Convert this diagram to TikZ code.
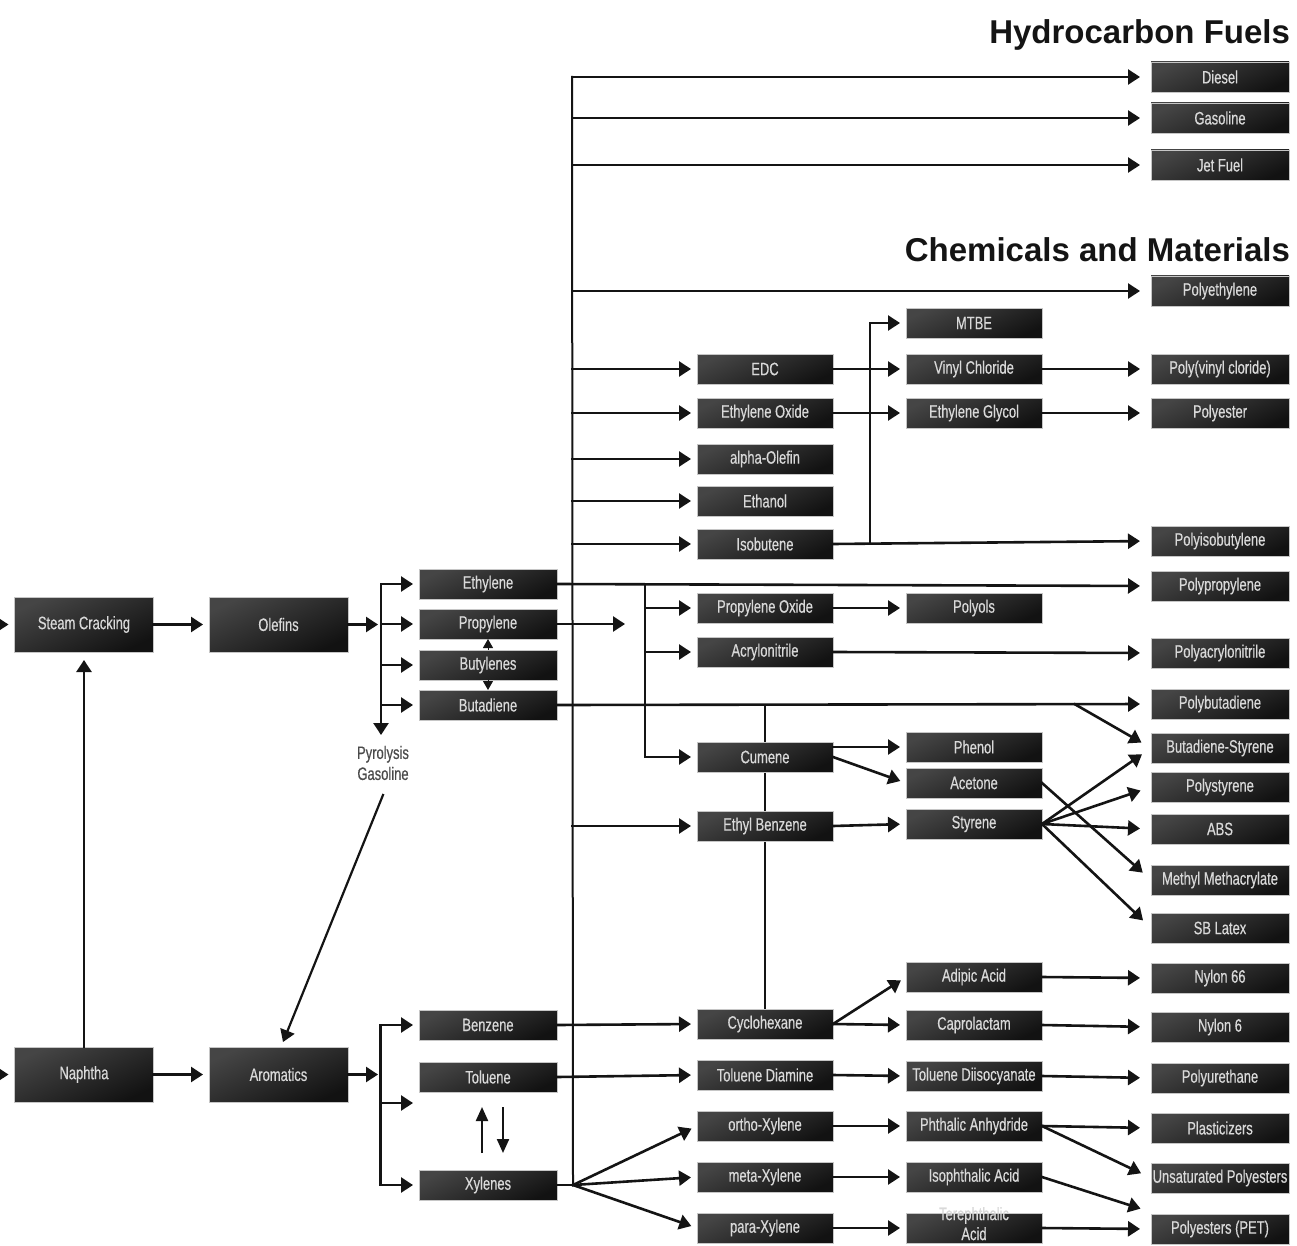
\documentclass[tikz,border=0pt]{standalone}
\usepackage{fontspec}
\setmainfont{Liberation Sans}
\newfontfamily\boxfont[FakeStretch=0.72,FakeBold=0.4]{Liberation Sans}
\newfontfamily\headfont{Liberation Sans}
\usetikzlibrary{arrows.meta,calc,backgrounds}
\definecolor{boxtop}{HTML}{454545}
\definecolor{boxbot}{HTML}{121212}
\definecolor{boxtext}{HTML}{D9D9D9}
\definecolor{ink}{HTML}{141414}
\definecolor{pyrotext}{HTML}{4A4A4A}
\begin{document}
\begin{tikzpicture}[x=1pt,y=-1pt,
  every node/.style={inner sep=0pt, outer sep=0pt},
  chem/.style={draw=gray!45, line width=0.7pt, top color=boxtop, bottom color=boxbot, shading angle=25,
    minimum width=138pt, minimum height=30pt, text=boxtext,
    font=\boxfont\fontsize{18}{19}\selectfont},
  chemB/.style={chem, minimum width=136pt},
  feed/.style={chem, minimum width=139pt, minimum height=55pt},
  wire/.style={draw=ink, line width=2.6pt, line cap=rect},
  arr0/.style={wire, -{Triangle[length=12pt,width=15pt]}},
  arr/.style={arr0, shorten >=6pt},
  arrD/.style={arr0, shorten >=11pt},
  trunkline/.style={draw=ink, line width=2pt},
  riser/.style={draw=ink, line width=1.6pt},
  tiny/.style={draw=ink, line width=1pt, -{Triangle[length=9pt,width=10pt]}},
  swap/.style={draw=ink, line width=2.2pt, -{Triangle[length=14pt,width=12pt]}},
  head/.style={anchor=base east, text=ink, font=\headfont\bfseries\fontsize{33}{36}\selectfont}
]
\useasboundingbox (0,0) rectangle (1297,1246);

% headings
\node[head] (fuels) at (1290,44) {Hydrocarbon Fuels};
\node[head] (chems) at (1290,262) {Chemicals and Materials};

% feedstocks and primary streams
\node[feed] (sc)  at (84,624.5)    {Steam Cracking};
\node[feed] (ole) at (278.5,624.5) {Olefins};
\node[feed] (nap) at (84,1074.5)   {Naphtha};
\node[feed] (aro) at (278.5,1074.5){Aromatics};

\node[chem] (eth)  at (488,584)  {Ethylene};
\node[chem] (prop) at (488,624)  {Propylene};
\node[chem] (buty) at (488,665)  {Butylenes};
\node[chem] (buta) at (488,705)  {Butadiene};
\node[chem] (benz) at (488,1025) {Benzene};
\node[chem] (tol)  at (488,1077) {Toluene};
\node[chem] (xyl)  at (488,1185) {Xylenes};

\node[font=\boxfont\fontsize{18}{21}\selectfont, text=pyrotext, align=center] (pyro) at (383,763) {Pyrolysis\\Gasoline};

% intermediates
\node[chemB] (edc)  at (765,369)  {EDC};
\node[chemB] (eo)   at (765,413)  {Ethylene Oxide};
\node[chemB] (ao)   at (765,459)  {alpha-Olefin};
\node[chemB] (etoh) at (765,501)  {Ethanol};
\node[chemB] (isob) at (765,544)  {Isobutene};
\node[chemB] (po)   at (765,608)  {Propylene Oxide};
\node[chemB] (acn)  at (765,652)  {Acrylonitrile};
\node[chemB] (cum)  at (765,757)  {Cumene};
\node[chemB] (eb)   at (765,826)  {Ethyl Benzene};
\node[chemB] (cyc)  at (765,1024) {Cyclohexane};
\node[chemB] (tda)  at (765,1075) {Toluene Diamine};
\node[chemB] (ox)   at (765,1126) {ortho-Xylene};
\node[chemB] (mx)   at (765,1177) {meta-Xylene};
\node[chemB] (px)   at (765,1228) {para-Xylene};

\node[chemB] (mtbe) at (974,323)  {MTBE};
\node[chemB] (vc)   at (974,369)  {Vinyl Chloride};
\node[chemB] (eg)   at (974,413)  {Ethylene Glycol};
\node[chemB] (pol)  at (974,608)  {Polyols};
\node[chemB] (phe)  at (974,747)  {Phenol};
\node[chemB] (ace)  at (974,783)  {Acetone};
\node[chemB] (sty)  at (974,824)  {Styrene};
\node[chemB] (adi)  at (974,977)  {Adipic Acid};
\node[chemB] (cap)  at (974,1025) {Caprolactam};
\node[chemB] (tdi)  at (974,1076) {Toluene Diisocyanate};
\node[chemB] (pa)   at (974,1126) {Phthalic Anhydride};
\node[chemB] (ia)   at (974,1177) {Isophthalic Acid};
\node[chemB, font=\boxfont\fontsize{18}{20}\selectfont] (ta) at (974,1228)
  {\smash{\parbox[c]{136pt}{\centering Terephthalic\\Acid}}};

% end products
\node[chem] (diesel) at (1220,77)   {Diesel};
\node[chem] (gas)    at (1220,118)  {Gasoline};
\node[chem] (jet)    at (1220,165)  {Jet Fuel};
\node[chem] (pe)     at (1220,291)  {Polyethylene};
\node[chem] (pvc)    at (1220,369)  {Poly(vinyl cloride)};
\node[chem] (pest)   at (1220,413)  {Polyester};
\node[chem] (pib)    at (1220,541)  {Polyisobutylene};
\node[chem] (pp)     at (1220,586)  {Polypropylene};
\node[chem] (pan)    at (1220,653)  {Polyacrylonitrile};
\node[chem] (pb)     at (1220,704)  {Polybutadiene};
\node[chem] (bs)     at (1220,748)  {Butadiene-Styrene};
\node[chem] (ps)     at (1220,787)  {Polystyrene};
\node[chem] (abs)    at (1220,829)  {ABS};
\node[chem] (mma)    at (1220,880)  {Methyl Methacrylate};
\node[chem] (sbl)    at (1220,928)  {SB Latex};
\node[chem] (n66)    at (1220,978)  {Nylon 66};
\node[chem] (n6)     at (1220,1027) {Nylon 6};
\node[chem] (pu)     at (1220,1078) {Polyurethane};
\node[chem] (plast)  at (1220,1128) {Plasticizers};
\node[chem] (upe)    at (1220,1178) {Unsaturated Polyesters};
\node[chem] (pet)    at (1220,1229) {Polyesters (PET)};

% junction points
\coordinate (inSC) at (0,624.5);
\coordinate (inNap) at (0,1074.5);
\coordinate (obrT) at (378,624.5);
\coordinate (obr)  at (381,624.5);
\coordinate (pyroT) at (381,735);
\coordinate (abrT) at (378,1074.5);
\coordinate (abr)  at (380.5,1074.5);
\coordinate (freeT) at (419,1103);
\coordinate (pyS)  at (383,795);
\coordinate (aroT) at (283,1042);
\coordinate (propT) at (625,624);
\coordinate (ttop) at (572,76);
\coordinate (tfan) at (573,1185);
\coordinate (pbr)  at (645,584.3);
\coordinate (vj)   at (765,704.5);
\coordinate (bdj)  at (1075,704.3);
\coordinate (ibj)  at (870,543);
\coordinate (u1) at (482,1153);
\coordinate (u2) at (482,1107);
\coordinate (d1) at (503,1107);
\coordinate (d2) at (503,1153);

% riser behind the cumene and ethyl benzene boxes
\begin{scope}[on background layer]
  \fill[white] (0,0) rectangle (1297,1246);
  \draw[riser] (vj) -- (cyc.north);
\end{scope}

% feed lines
\draw[arr] (inSC) -- (sc.west);
\draw[arr] (inNap) -- (nap.west);
\draw[arr, shorten >=8pt] (nap.north) -- (sc.south);
\draw[arr] (sc.east) -- (ole.west);
\draw[arr] (nap.east) -- (aro.west);

% olefin split
\draw[arr0] (ole.east) -- (obrT);
\draw[arr] (obr |- eth.west) -- (eth.west);
\draw[arr] (obr |- prop.west) -- (prop.west);
\draw[arr] (obr |- buty.west) -- (buty.west);
\draw[arr] (obr |- buta.west) -- (buta.west);
\draw[arr0] (obr |- eth.west) -- (pyroT);
\draw[tiny] (buty.north) -- (prop.south);
\draw[tiny] (buty.south) -- (buta.north);
\draw[arr0, line width=2.2pt] (pyS) -- (aroT);

% aromatic split
\draw[arr0] (aro.east) -- (abrT);
\draw[arr] (abr |- benz.west) -- (benz.west);
\draw[arr] (abr |- benz.west) |- (xyl.west);
\draw[arr] (abr |- freeT) -- (freeT);
\draw[swap] (u1) -- (u2);
\draw[swap] (d1) -- (d2);

% main trunk and its branches
\draw[trunkline] (ttop) -- (tfan);
\draw[arrD] (ttop |- diesel.west) -- (diesel.west);
\draw[arrD] (ttop |- gas.west) -- (gas.west);
\draw[arrD] (ttop |- jet.west) -- (jet.west);
\draw[arrD] (ttop |- pe.west) -- (pe.west);
\draw[arr] (ttop |- edc.west) -- (edc.west);
\draw[arr] (ttop |- eo.west) -- (eo.west);
\draw[arr] (ttop |- ao.west) -- (ao.west);
\draw[arr] (ttop |- etoh.west) -- (etoh.west);
\draw[arr] (ttop |- isob.west) -- (isob.west);
\draw[arr] (ttop |- eb.west) -- (eb.west);

% ethylene and propylene
\draw[arrD] (eth.east) -- (pp.west);
\draw[arr0] (prop.east) -- (propT);
\draw[arr] (pbr) |- (cum.west);
\draw[arr] (pbr |- po.west) -- (po.west);
\draw[arr] (pbr |- acn.west) -- (acn.west);

% butadiene
\draw[arrD] (buta.east) -- (pb.west);
\draw[arrD] (bdj) -- (bs.west);

% C2 / C4 chains
\draw[arr] (edc.east) -- (vc.west);
\draw[arrD] (vc.east) -- (pvc.west);
\draw[arr] (eo.east) -- (eg.west);
\draw[arrD] (eg.east) -- (pest.west);
\draw[arrD] (isob.east) -- (pib.west);
\draw[arr] (ibj) |- (mtbe.west);
\draw[arr] (po.east) -- (pol.west);
\draw[arrD] (acn.east) -- (pan.west);

% cumene and styrene chains
\draw[arr] (cum.east |- phe.west) -- (phe.west);
\draw[arr] (cum.east) -- (ace.west);
\draw[arr] (eb.east) -- (sty.west);
\draw[arrD] (sty.east) -- (bs.west);
\draw[arrD] (sty.east) -- (ps.west);
\draw[arrD] (sty.east) -- (abs.west);
\draw[arrD] (sty.east) -- (sbl.west);
\draw[arrD] (ace.east) -- (mma.west);

% benzene and toluene chains
\draw[arr] (benz.east) -- (cyc.west);
\draw[arr] (cyc.east) -- (adi.west);
\draw[arr] (cyc.east) -- (cap.west);
\draw[arrD] (adi.east) -- (n66.west);
\draw[arrD] (cap.east) -- (n6.west);
\draw[arr] (tol.east) -- (tda.west);
\draw[arr] (tda.east) -- (tdi.west);
\draw[arrD] (tdi.east) -- (pu.west);

% xylene chains
\draw[wire] (xyl.east) -- (tfan);
\draw[arr] (tfan) -- (ox.west);
\draw[arr] (tfan) -- (mx.west);
\draw[arr] (tfan) -- (px.west);
\draw[arr] (ox.east) -- (pa.west);
\draw[arr] (mx.east) -- (ia.west);
\draw[arr] (px.east) -- (ta.west);
\draw[arrD] (pa.east) -- (plast.west);
\draw[arrD] (pa.east) -- (upe.west);
\draw[arrD] (ia.east) -- ($(pet.west)+(0,-17)$);
\draw[arrD] (ta.east) -- (pet.west);
\end{tikzpicture}
\end{document}
